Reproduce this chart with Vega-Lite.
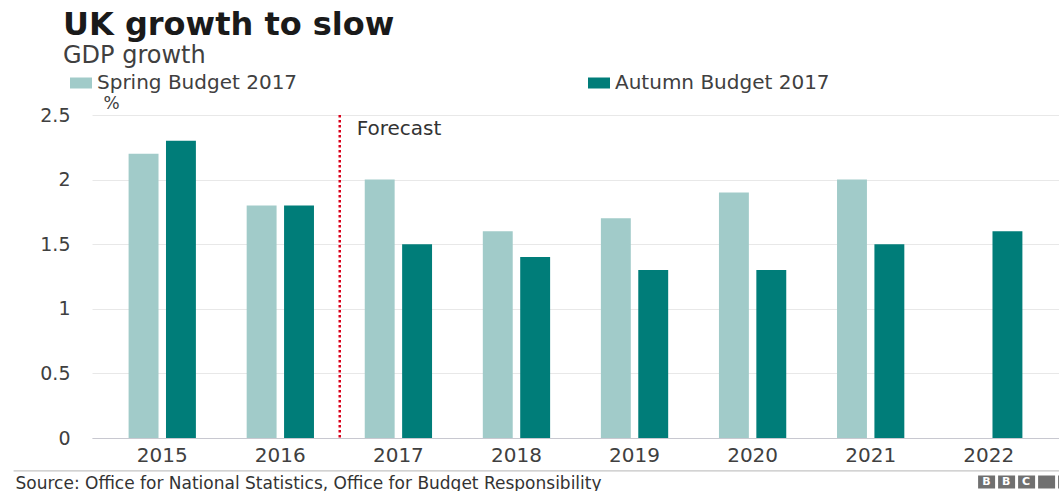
{
  "$schema": "https://vega.github.io/schema/vega-lite/v6.json",
  "width": 967,
  "height": 323,
  "autosize": {"type": "none"},
  "padding": {"left": 92, "top": 115, "right": 0, "bottom": 53},
  "background": "white",
  "title": {
    "text": "UK growth to slow",
    "subtitle": "GDP growth",
    "anchor": "start",
    "frame": "group",
    "dx": -29,
    "offset": 3,
    "font": "DejaVu Sans",
    "fontSize": 32,
    "fontWeight": "bold",
    "color": "#1a1a1a",
    "subtitleFont": "DejaVu Sans",
    "subtitleFontSize": 24,
    "subtitleColor": "#404040",
    "subtitlePadding": 2
  },
  "config": {
    "font": "DejaVu Sans",
    "view": {"stroke": null}
  },
  "layer": [
    {
      "data": {
        "values": [
          {"year": "2015", "budget": "Spring Budget 2017", "growth": 2.2},
          {"year": "2015", "budget": "Autumn Budget 2017", "growth": 2.3},
          {"year": "2016", "budget": "Spring Budget 2017", "growth": 1.8},
          {"year": "2016", "budget": "Autumn Budget 2017", "growth": 1.8},
          {"year": "2017", "budget": "Spring Budget 2017", "growth": 2.0},
          {"year": "2017", "budget": "Autumn Budget 2017", "growth": 1.5},
          {"year": "2018", "budget": "Spring Budget 2017", "growth": 1.6},
          {"year": "2018", "budget": "Autumn Budget 2017", "growth": 1.4},
          {"year": "2019", "budget": "Spring Budget 2017", "growth": 1.7},
          {"year": "2019", "budget": "Autumn Budget 2017", "growth": 1.3},
          {"year": "2020", "budget": "Spring Budget 2017", "growth": 1.9},
          {"year": "2020", "budget": "Autumn Budget 2017", "growth": 1.3},
          {"year": "2021", "budget": "Spring Budget 2017", "growth": 2.0},
          {"year": "2021", "budget": "Autumn Budget 2017", "growth": 1.5},
          {"year": "2022", "budget": "Autumn Budget 2017", "growth": 1.6}
        ]
      },
      "mark": {"type": "bar"},
      "encoding": {
        "x": {
          "field": "year",
          "type": "nominal",
          "scale": {"paddingInner": 0.43, "paddingOuter": 0.31},
          "axis": {
            "domain": true,
            "domainColor": "#c8c8d0",
            "ticks": false,
            "labelAngle": 0,
            "labelPadding": 7,
            "labelFontSize": 20,
            "labelColor": "#404040",
            "title": "Source: Office for National Statistics, Office for Budget Responsibility",
            "titleX": -77,
            "titleY": 50,
            "titleAlign": "left",
            "titleBaseline": "alphabetic",
            "titleFontSize": 17,
            "titleFontWeight": "normal",
            "titleColor": "#333333"
          }
        },
        "xOffset": {
          "field": "budget",
          "type": "nominal",
          "sort": ["Spring Budget 2017", "Autumn Budget 2017"],
          "scale": {"paddingInner": 0.2, "paddingOuter": 0}
        },
        "y": {
          "field": "growth",
          "type": "quantitative",
          "scale": {"domain": [0, 2.5], "nice": false},
          "axis": {
            "values": [0, 0.5, 1, 1.5, 2, 2.5],
            "labelExpr": "toString(datum.value)",
            "domain": false,
            "ticks": false,
            "grid": true,
            "gridColor": "#e8e8e8",
            "labelPadding": 22,
            "labelFontSize": 19,
            "labelColor": "#404040",
            "title": "%",
            "titleAngle": 0,
            "titleX": 11,
            "titleY": -12,
            "titleAlign": "left",
            "titleBaseline": "middle",
            "titleFontSize": 17,
            "titleFontWeight": "normal",
            "titleColor": "#404040"
          }
        },
        "color": {
          "field": "budget",
          "type": "nominal",
          "scale": {
            "domain": ["Spring Budget 2017", "Autumn Budget 2017"],
            "range": ["#a1cbc9", "#007d79"]
          },
          "legend": {
            "orient": "none",
            "legendX": -22,
            "legendY": -43,
            "direction": "horizontal",
            "columns": 2,
            "columnPadding": 290,
            "title": null,
            "symbolType": "M-1,-0.5H1V0.5H-1Z",
            "symbolSize": 484,
            "symbolOpacity": 1,
            "symbolStrokeWidth": 0,
            "labelFontSize": 20,
            "labelLimit": 0,
            "labelOffset": 5,
            "labelColor": "#404040"
          }
        }
      }
    },
    {
      "data": {"values": [{"year": "2017", "label": "Forecast"}]},
      "mark": {"type": "rule", "color": "#d9001b", "strokeWidth": 2.5, "strokeDash": [2.5, 2.5], "xOffset": -25},
      "encoding": {
        "x": {"field": "year", "type": "nominal", "bandPosition": 0}
      }
    },
    {
      "data": {"values": [{"year": "2017", "label": "Forecast"}]},
      "mark": {"type": "text", "align": "left", "baseline": "middle", "dx": -8, "fontSize": 20, "color": "#333333"},
      "encoding": {
        "x": {"field": "year", "type": "nominal", "bandPosition": 0},
        "y": {"datum": 2.39},
        "text": {"field": "label"}
      }
    },
    {
      "data": {"values": [{"from": "2015", "to": "2022"}]},
      "mark": {"type": "rule", "color": "#c4c4c4", "strokeWidth": 1.2, "xOffset": -115, "x2Offset": 104},
      "encoding": {
        "x": {"field": "from", "type": "nominal", "bandPosition": 0},
        "x2": {"field": "to"},
        "y": {"datum": -0.255}
      }
    },
    {
      "data": {"values": [{"year": "2022", "logo": "B\u00a0\u00a0\u00a0B\u00a0\u00a0\u00a0C"}]},
      "mark": {"type": "rule", "color": "#707070", "strokeWidth": 13, "strokeDash": [17, 3], "xOffset": 23, "x2Offset": 104},
      "encoding": {
        "x": {"field": "year", "type": "nominal", "bandPosition": 0},
        "x2": {"field": "year"},
        "y": {"datum": -0.34}
      }
    },
    {
      "data": {"values": [{"year": "2022", "logo": "B\u00a0\u00a0\u00a0B\u00a0\u00a0\u00a0C"}]},
      "mark": {"type": "text", "align": "center", "baseline": "middle", "dx": 51, "fontSize": 11, "fontWeight": "bold", "color": "white"},
      "encoding": {
        "x": {"field": "year", "type": "nominal", "bandPosition": 0},
        "y": {"datum": -0.34},
        "text": {"field": "logo"}
      }
    }
  ]
}
